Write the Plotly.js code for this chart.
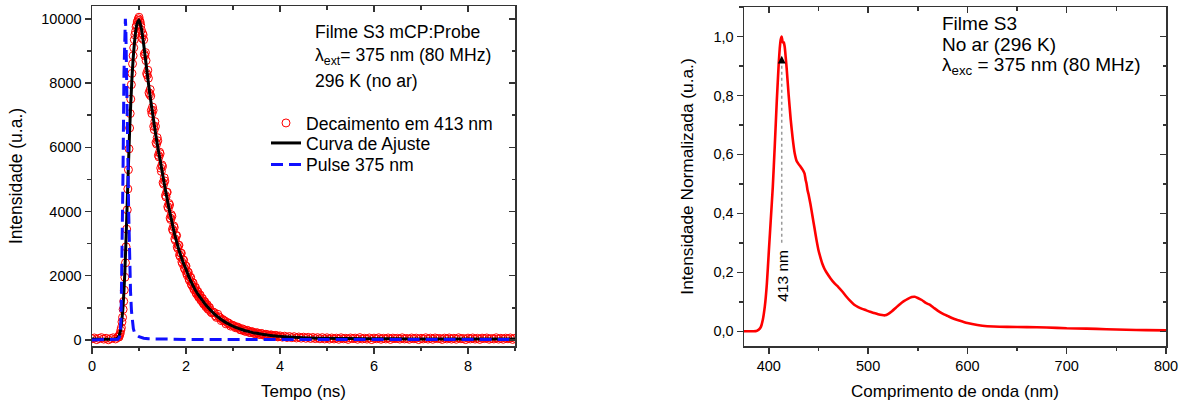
<!DOCTYPE html>
<html>
<head>
<meta charset="utf-8">
<script src="https://cdn.plot.ly/plotly-3.0.1.min.js"></script>
<style>
  html, body { margin: 0; padding: 0; background: #fff; }
  #chart { width: 1190px; height: 406px; }
</style>
</head>
<body>
<div id="chart"></div>
<script>
// ---------- Left panel: time-resolved decay ----------
const decayTime = [
  0,0.05,0.1,0.15,0.2,0.25,0.3,0.35,0.4,0.45,0.5,
  0.55,0.5625,0.575,0.5875,0.6,0.6125,0.625,0.6375,0.65,0.6625,
  0.675,0.6875,0.7,0.7125,0.725,0.7375,0.75,0.7625,0.775,0.7875,
  0.8,0.8125,0.825,0.8375,0.85,0.8625,0.875,0.8875,0.9,0.9125,
  0.925,0.9375,0.95,0.9625,0.975,0.9875,1,1.0125,1.025,1.0375,
  1.05,1.075,1.1,1.125,1.15,1.175,1.2,1.225,1.25,1.275,
  1.3,1.325,1.35,1.375,1.4,1.425,1.45,1.475,1.5,1.525,
  1.55,1.575,1.6,1.625,1.65,1.675,1.7,1.725,1.75,1.775,
  1.8,1.825,1.85,1.875,1.9,1.925,1.95,1.975,2,2.025,
  2.05,2.075,2.1,2.125,2.15,2.175,2.2,2.225,2.25,2.275,
  2.3,2.325,2.35,2.375,2.4,2.425,2.45,2.475,2.5,
  2.55,2.6,2.65,2.7,2.75,2.8,2.85,2.9,2.95,3,
  3.05,3.1,3.15,3.2,3.25,3.3,3.35,3.4,3.45,3.5,
  3.55,3.6,3.65,3.7,3.75,3.8,3.85,3.9,3.95,4,
  4.05,4.1,4.15,4.2,4.25,4.3,4.35,4.4,4.45,4.5,
  4.55,4.6,4.65,4.7,4.75,4.8,4.85,4.9,4.95,5,
  5.05,5.1,5.15,5.2,5.25,5.3,5.35,5.4,5.45,5.5,
  5.55,5.6,5.65,5.7,5.75,5.8,5.85,5.9,5.95,6,
  6.05,6.1,6.15,6.2,6.25,6.3,6.35,6.4,6.45,6.5,
  6.55,6.6,6.65,6.7,6.75,6.8,6.85,6.9,6.95,7,
  7.05,7.1,7.15,7.2,7.25,7.3,7.35,7.4,7.45,7.5,
  7.55,7.6,7.65,7.7,7.75,7.8,7.85,7.9,7.95,8,
  8.05,8.1,8.15,8.2,8.25,8.3,8.35,8.4,8.45,8.5,
  8.55,8.6,8.65,8.7,8.75,8.8,8.85,8.9,8.95,9
];
const decayCounts = [
  35,60,10,45,70,25,50,5,40,65,30,
  80,110,90,160,200,300,380,560,700,950,
  1200,1550,1950,2400,2900,3450,4050,4700,5300,5950,
  6600,7050,7500,7950,8300,8600,8850,9100,9350,9500,
  9600,9750,9800,9900,9950,10000,10050,9950,9900,9800,
  9650,9550,9350,8850,8700,8250,8150,7650,7600,7050,
  7150,6550,6650,6100,6200,5700,5800,5250,5400,4850,
  4950,4450,4600,4100,4200,3750,3850,3400,3500,3100,
  3250,2850,2950,2600,2700,2380,2480,2200,2300,2020,
  2100,1850,1950,1700,1780,1560,1640,1430,1510,1320,
  1400,1220,1290,1120,1190,1030,1100,950,1010,
  840,850,700,720,600,610,500,530,430,450,
  380,400,320,345,270,300,230,260,200,225,
  175,200,150,175,125,155,110,140,95,125,
  85,115,75,105,70,100,60,90,55,85,
  50,80,45,75,40,70,35,70,30,65,
  25,60,30,55,20,65,35,50,15,60,
  40,55,20,70,30,50,25,60,10,55,
  35,65,20,50,30,60,15,55,40,50,
  25,65,30,45,20,60,35,55,10,50,
  30,65,25,55,20,60,40,45,15,55,
  30,60,25,50,20,65,35,45,10,55,
  30,60,25,50,15,55,40,60,20,45,
  30,65,25,50,20,55,35,60,15,50
];
// interleaved channels of the same decay (denser band on the falling edge)
const decayTimeExtra = [
  1.0625,1.0875,1.1125,1.1375,1.1625,1.1875,1.2125,1.2375,1.2625,1.2875,
  1.3125,1.3375,1.3625,1.3875,1.4125,1.4375,1.4625,1.4875,1.5125,1.5375,
  1.5625,1.5875,1.6125,1.6375,1.6625,1.6875,1.7125,1.7375,1.7625,1.7875,
  1.8125,1.8375,1.8625,1.8875,1.9125,1.9375,1.9625,1.9875,2.0125,2.0375,
  2.0625,2.0875,2.1125,2.1375,2.1625,2.1875,2.2125,2.2375,2.2625,2.2875,
  2.3125,2.3375,2.3625,2.3875,2.4125,2.4375,2.4625,2.4875,
  2.525,2.575,2.625,2.675,2.725,2.775,2.825,2.875,2.925,2.975,
  3.025,3.075,3.125,3.175,3.225,3.275,3.325,3.375,3.425,3.475,
  3.525,3.575,3.625,3.675,3.725,3.775,3.825,3.875,3.925,3.975
];
const decayCountsExtra = [
  9400,9500,8900,8950,8300,8400,7700,7800,7150,7250,
  6650,6800,6150,6300,5750,5850,5350,5450,4900,5050,
  4500,4600,4150,4250,3800,3900,3450,3550,3150,3250,
  2900,2950,2650,2700,2430,2500,2250,2300,2080,2120,
  1900,1940,1740,1780,1600,1630,1470,1500,1360,1390,
  1260,1290,1160,1190,1070,1090,980,1010,
  880,870,750,800,690,640,590,540,500,460,
  430,390,370,310,320,270,280,230,240,200,
  215,170,190,150,165,130,150,115,135,100
];
const fitTime = [0,0.5,0.55,0.6,0.65,0.7,0.75,0.8,0.85,0.9,0.95,1,1.05,1.1,1.15,1.2,1.25,1.3,1.35,1.4,1.45,1.5,1.55,1.6,1.65,1.7,1.75,1.8,1.85,1.9,1.95,2,2.05,2.1,2.15,2.2,2.25,2.3,2.35,2.4,2.45,2.5,2.6,2.7,2.8,2.9,3,3.1,3.2,3.3,3.4,3.5,3.6,3.7,3.8,3.9,4,4.2,4.4,4.6,4.8,5,5.5,6,6.5,7,8,9];
const fitCounts = [30,30,60,250,850,2150,4300,6500,8150,9200,9800,9970,9700,9200,8600,8000,7450,6950,6450,6000,5600,5180,4770,4380,4010,3680,3340,3060,2800,2580,2370,2200,2000,1840,1690,1550,1430,1330,1230,1130,1040,960,810,690,585,500,425,365,315,272,235,205,180,158,140,124,110,90,75,63,55,49,40,35,32,30,28,27];
const pulseTime = [0,0.5,0.55,0.58,0.6,0.62,0.64,0.66,0.68,0.7,0.71,0.72,0.74,0.76,0.78,0.8,0.82,0.84,0.86,0.88,0.9,0.95,1,1.05,1.1,1.2,1.5,2,3,5,9];
const pulseCounts = [0,0,20,80,200,800,2500,5200,8300,9900,10000,9700,8200,6000,4000,2500,1500,900,550,350,250,150,100,70,50,35,20,15,12,10,10];

const legendNames = ['Decaimento em 413 nm', 'Curva de Ajuste', 'Pulse 375 nm'];
const leftInfo = ['Filme S3 mCP:Probe', 'λ<sub>ext</sub>= 375 nm (80 MHz)', '296 K (no ar)'];

// ---------- Right panel: emission spectrum ----------
const wavelength = [375,385,388,390,392,394,396,398,400,402,404,406,408,410,411,412,413,414,415,416,417,418,420,422,424,426,428,430,432,434,436,437,438,439,440,442,444,446,448,450,452,454,456,458,462,466,470,474,478,482,486,490,494,498,502,506,510,514,517,520,524,528,532,536,540,544,547,550,554,558,562,566,570,575,580,585,590,595,600,610,620,640,660,680,700,720,740,760,780,800];
const normIntensity = [0,0,0.002,0.006,0.015,0.04,0.085,0.16,0.27,0.38,0.49,0.63,0.78,0.91,0.96,0.99,1.0,0.98,0.98,0.965,0.93,0.89,0.8,0.72,0.655,0.605,0.578,0.567,0.558,0.548,0.535,0.515,0.5,0.478,0.465,0.43,0.39,0.35,0.31,0.275,0.25,0.228,0.212,0.2,0.18,0.163,0.15,0.135,0.118,0.103,0.09,0.082,0.076,0.071,0.066,0.062,0.058,0.055,0.054,0.058,0.068,0.08,0.092,0.102,0.11,0.116,0.117,0.113,0.106,0.096,0.09,0.08,0.07,0.06,0.052,0.044,0.038,0.033,0.028,0.021,0.017,0.015,0.014,0.013,0.01,0.009,0.007,0.005,0.004,0.003];
const peakWavelength = 413;
const peakLabel = '413 nm';
const rightInfo = ['Filme S3', 'No ar (296 K)', 'λ<sub>exc</sub> = 375 nm (80 MHz)'];

// ---------- styling ----------
const FONT = 'Liberation Sans, Arial, Helvetica, sans-serif';
const AX = '#333333';
const W = 1190, H = 406;
const px = v => v / W;
const py = v => 1 - v / H;

function mainAxis(extra) {
  return Object.assign({
    showline: true, mirror: true, linecolor: AX, linewidth: 1.5,
    ticks: 'outside', ticklen: 6, tickwidth: 1.5, tickcolor: AX,
    showgrid: false, zeroline: false,
    tickfont: {family: FONT, size: 14.5, color: '#000'},
    automargin: false
  }, extra);
}
function overlayAxis(extra) {
  return Object.assign({
    showline: false, ticks: 'inside', ticklen: 6, tickwidth: 1.5, tickcolor: AX,
    showticklabels: false, showgrid: false, zeroline: false, automargin: false
  }, extra);
}

const xLeftRange = [0, 9], yLeftRange = [-190, 10400];
const xRightRange = [375, 800], yRightRange = [-0.05, 1.1];
const xLeftDom = [px(92), px(515)], yLeftDom = [py(346), py(6)];
const xRightDom = [px(744), px(1166)], yRightDom = [py(346), py(7)];

const traces = [
  {x: decayTime.concat(decayTimeExtra), y: decayCounts.concat(decayCountsExtra),
   name: legendNames[0], type: 'scatter', mode: 'markers', legend: 'legend',
   marker: {symbol: 'circle-open', size: 8, color: '#ff0000', line: {width: 1}},
   xaxis: 'x', yaxis: 'y'},
  {x: fitTime, y: fitCounts, name: legendNames[1], type: 'scatter', mode: 'lines', legend: 'legend2',
   line: {color: '#000000', width: 3, shape: 'spline', smoothing: 0.6},
   xaxis: 'x', yaxis: 'y'},
  {x: pulseTime, y: pulseCounts, name: legendNames[2], type: 'scatter', mode: 'lines', legend: 'legend3',
   line: {color: '#1010ff', width: 3, dash: '12px,6px'},
   xaxis: 'x', yaxis: 'y'},
  {x: wavelength, y: normIntensity, type: 'scatter', mode: 'lines', showlegend: false,
   line: {color: '#ff0000', width: 2.6, shape: 'spline', smoothing: 0.4}, xaxis: 'x2', yaxis: 'y2'},
  // empty traces that only activate the mirrored (inward tick) axes
  {x: [], y: [], xaxis: 'x3', yaxis: 'y', showlegend: false, hoverinfo: 'skip'},
  {x: [], y: [], xaxis: 'x', yaxis: 'y3', showlegend: false, hoverinfo: 'skip'},
  {x: [], y: [], xaxis: 'x4', yaxis: 'y2', showlegend: false, hoverinfo: 'skip'},
  {x: [], y: [], xaxis: 'x2', yaxis: 'y4', showlegend: false, hoverinfo: 'skip'}
];

const leftFont = {family: FONT, size: 17.6, color: '#000'};
const rightFont = {family: FONT, size: 19, color: '#000'};
const annotations = [];
const leftY = [32.3, 56.5, 80.7];
leftInfo.forEach((t, i) => annotations.push({
  text: t, xref: 'paper', yref: 'paper', x: px(313), y: py(leftY[i]),
  xanchor: 'left', yanchor: 'middle', showarrow: false, font: leftFont
}));
const rightY = [23.3, 44.3, 65.5];
rightInfo.forEach((t, i) => annotations.push({
  text: t, xref: 'paper', yref: 'paper', x: px(940), y: py(rightY[i]),
  xanchor: 'left', yanchor: 'middle', showarrow: false, font: rightFont
}));
annotations.push({
  text: '', xref: 'x2', yref: 'y2', axref: 'x2', ayref: 'y2',
  x: peakWavelength, y: 0.935, ax: peakWavelength, ay: 0.905,
  showarrow: true, arrowhead: 2, arrowsize: 1.3, arrowwidth: 1.2, arrowcolor: '#000'
});
annotations.push({
  text: peakLabel, xref: 'x2', yref: 'y2', x: peakWavelength + 0.7, y: 0.19,
  textangle: -90, showarrow: false, xanchor: 'center', yanchor: 'middle',
  font: {family: FONT, size: 15.5, color: '#000'}
});

function legendAt(topPx) {
  return {
    x: px(266), y: py(topPx), xanchor: 'left', yanchor: 'top',
    bgcolor: 'rgba(0,0,0,0)', borderwidth: 0,
    font: {family: FONT, size: 17.6, color: '#000'}
  };
}

const layout = {
  width: W, height: H,
  margin: {l: 0, r: 0, t: 0, b: 0, pad: 0},
  paper_bgcolor: '#fff', plot_bgcolor: '#fff',
  separators: ',.',
  font: {family: FONT, color: '#000'},
  showlegend: true,
  legend: legendAt(105),
  legend2: legendAt(125),
  legend3: legendAt(146.5),
  xaxis: mainAxis({domain: xLeftDom, anchor: 'y', range: xLeftRange, dtick: 2, tick0: 0,
    minor: {ticks: 'outside', ticklen: 3.5, tickwidth: 1.5, tickcolor: AX, dtick: 1, tick0: 0},
    title: {text: 'Tempo (ns)', font: {family: FONT, size: 17, color: '#000'}, standoff: 12}}),
  yaxis: mainAxis({domain: yLeftDom, anchor: 'x', range: yLeftRange, dtick: 2000, tick0: 0, tickformat: 'd',
    minor: {ticks: 'outside', ticklen: 3.5, tickwidth: 1.5, tickcolor: AX, dtick: 1000, tick0: 0},
    title: {text: 'Intensidade (u.a.)', font: {family: FONT, size: 17.5, color: '#000'}, standoff: 14}}),
  xaxis3: overlayAxis({overlaying: 'x', anchor: 'y', side: 'top', range: xLeftRange, dtick: 2, tick0: 0,
    minor: {ticks: 'inside', ticklen: 3.5, tickwidth: 1.5, tickcolor: AX, dtick: 1, tick0: 0}}),
  yaxis3: overlayAxis({overlaying: 'y', anchor: 'x', side: 'right', range: yLeftRange, dtick: 2000, tick0: 0,
    minor: {ticks: 'inside', ticklen: 3.5, tickwidth: 1.5, tickcolor: AX, dtick: 1000, tick0: 0}}),
  xaxis2: mainAxis({domain: xRightDom, anchor: 'y2', range: xRightRange, dtick: 100, tick0: 0,
    minor: {ticks: 'outside', ticklen: 3.5, tickwidth: 1.5, tickcolor: AX, dtick: 50, tick0: 0},
    title: {text: 'Comprimento de onda (nm)', font: {family: FONT, size: 17, color: '#000'}, standoff: 12}}),
  yaxis2: mainAxis({domain: yRightDom, anchor: 'x2', range: yRightRange, dtick: 0.2, tick0: 0, tickformat: '.1f',
    minor: {ticks: 'outside', ticklen: 3.5, tickwidth: 1.5, tickcolor: AX, dtick: 0.1, tick0: 0},
    title: {text: 'Intensidade Normalizada (u.a.)', font: {family: FONT, size: 17.3, color: '#000'}, standoff: 15}}),
  xaxis4: overlayAxis({overlaying: 'x2', anchor: 'y2', side: 'top', range: xRightRange, dtick: 100, tick0: 0,
    minor: {ticks: 'inside', ticklen: 3.5, tickwidth: 1.5, tickcolor: AX, dtick: 50, tick0: 0}}),
  yaxis4: overlayAxis({overlaying: 'y2', anchor: 'x2', side: 'right', range: yRightRange, dtick: 0.2, tick0: 0,
    minor: {ticks: 'inside', ticklen: 3.5, tickwidth: 1.5, tickcolor: AX, dtick: 0.1, tick0: 0}}),
  shapes: [{
    type: 'line', xref: 'x2', yref: 'y2',
    x0: peakWavelength, x1: peakWavelength, y0: 0.30, y1: 0.905,
    line: {color: '#9a9a9a', width: 1.5, dash: 'dot'}
  }],
  annotations: annotations
};

Plotly.newPlot('chart', traces, layout, {displayModeBar: false, staticPlot: true});
</script>
</body>
</html>
